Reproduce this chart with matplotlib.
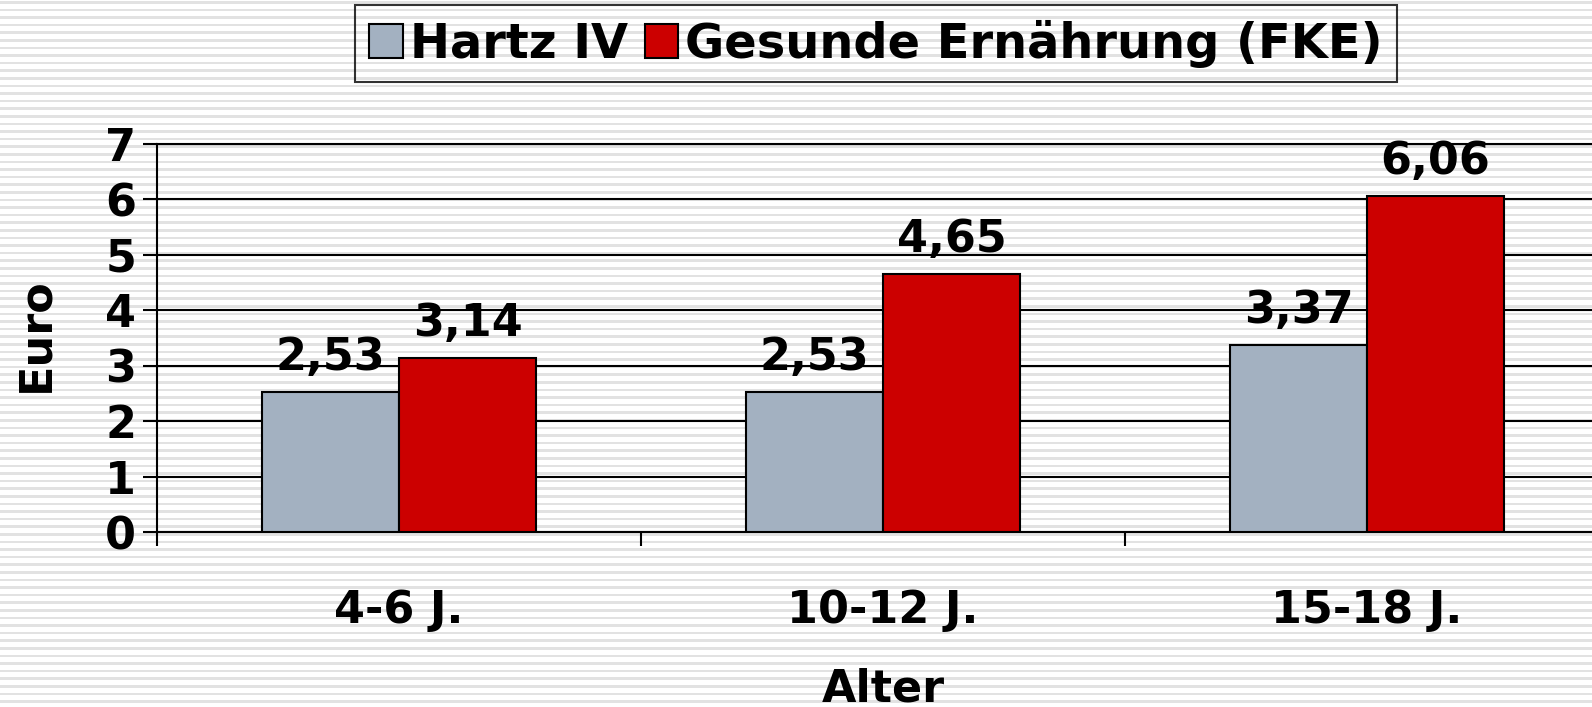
import matplotlib
matplotlib.use("Agg")
import matplotlib.pyplot as plt
import numpy as np
from matplotlib.patches import Patch

categories = ["4-6 J.", "10-12 J.", "15-18 J."]
hartz = [2.53, 2.53, 3.37]
fke = [3.14, 4.65, 6.06]
series_names = ["Hartz IV", "Gesunde Ernährung (FKE)"]
value_labels_h = ["2,53", "2,53", "3,37"]
value_labels_f = ["3,14", "4,65", "6,06"]
yticks = [0, 1, 2, 3, 4, 5, 6, 7]

W, H = 1592, 707
fig = plt.figure(figsize=(W / 100, H / 100), dpi=100)
plt.rcParams['font.family'] = ['DejaVu Sans']

# striped background
bg = fig.add_axes([0, 0, 1, 1], zorder=-5)
bg.set_xlim(0, 1)
bg.set_ylim(H, 0)
bg.axis("off")
period = 7.6
y = 1.0
while y < H:
    bg.axhspan(y, y + 2.6, color="#e2e2e2", lw=0)
    y += period

ax = fig.add_axes([157 / W, 1 - 532 / H, 1452 / W, 388 / H])
ax.set_facecolor("none")

x = np.arange(len(categories))
w = 0.283
gray = "#A3B1C1"
red = "#CC0000"
b1 = ax.bar(x - w / 2, hartz, w, color=gray, edgecolor="black", lw=1.5, zorder=3)
b2 = ax.bar(x + w / 2, fke, w, color=red, edgecolor="black", lw=1.5, zorder=3)

fs = 32
for bars, labs in ((b1, value_labels_h), (b2, value_labels_f)):
    for r, lab in zip(bars, labs):
        ax.annotate(lab, (r.get_x() + r.get_width() / 2, r.get_height()),
                    xytext=(0, 16), textcoords="offset points",
                    ha="center", va="baseline", fontsize=fs, fontweight="bold", zorder=4)

ax.set_xlim(-0.5, 2.5)
ax.set_ylim(0, 7)
ax.set_yticks(yticks)
ax.set_yticklabels([str(v) for v in yticks], fontsize=fs, fontweight="bold")
ax.tick_params(axis="y", length=10, width=1.5, pad=5, direction="out")
ax.yaxis.grid(True, color="black", lw=1.5, zorder=1)
ax.set_axisbelow(True)

ax.set_xticks(np.arange(len(categories) + 1) - 0.5)
ax.set_xticklabels([])
ax.tick_params(axis="x", which="major", length=10, width=1.5, direction="out")
ax.set_xticks(x, minor=True)
ax.set_xticklabels(categories, minor=True, fontsize=fs, fontweight="bold")
ax.tick_params(axis="x", which="minor", length=0, pad=41)

for s in ["left", "bottom", "top"]:
    ax.spines[s].set_linewidth(1.5)
    ax.spines[s].set_color("black")
ax.spines["right"].set_visible(False)

fig.text(36 / W, 1 - 335 / H, "Euro", rotation=90, ha="center", va="center",
         fontsize=fs, fontweight="bold")
fig.text(883 / W, 1 - 701 / H, "Alter", ha="center", va="baseline",
         fontsize=fs, fontweight="bold")

handles = [Patch(facecolor=gray, edgecolor="black", lw=1.5),
           Patch(facecolor=red, edgecolor="black", lw=1.5)]
leg = fig.legend(handles, series_names, loc="center", ncol=2,
                 bbox_to_anchor=(876 / W, 1 - 43.5 / H),
                 prop={"size": 34.5, "weight": "bold"},
                 handlelength=0.7, handleheight=0.7, handletextpad=0.15,
                 columnspacing=0.35, borderpad=0.3, borderaxespad=0,
                 fancybox=False, frameon=True)
fr = leg.get_frame()
fr.set_facecolor("none")
fr.set_edgecolor("black")
fr.set_linewidth(1.5)

fig.savefig("out.png", dpi=100)
